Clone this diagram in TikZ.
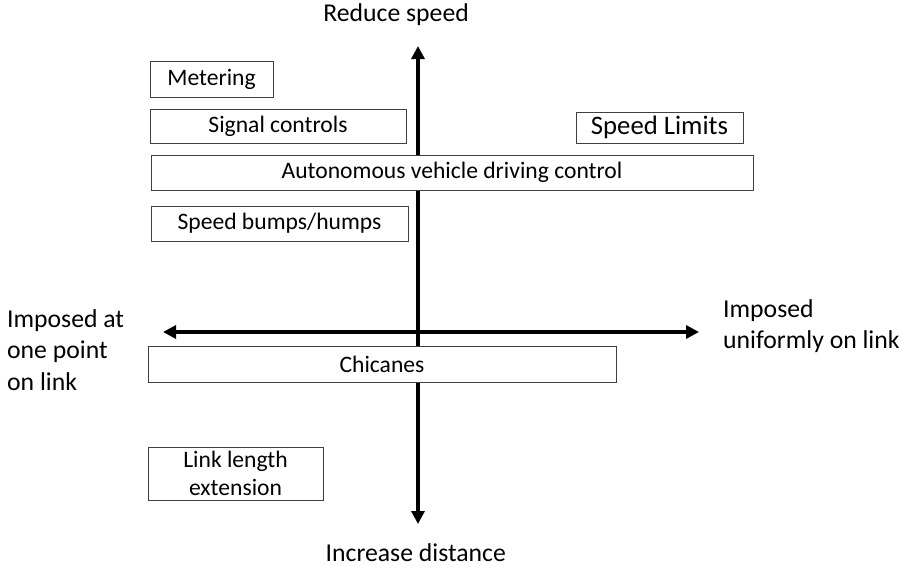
\documentclass[tikz,border=0pt]{standalone}
\usepackage{fontspec}
\setmainfont{Carlito}
\usetikzlibrary{arrows.meta}
\begin{document}
\begin{tikzpicture}[x=1pt,y=-1pt,
  box/.style={draw=black!75,line width=0.9pt,fill=white,inner sep=0pt,font=\fontsize{23.6}{28}\selectfont},
  axis/.style={line width=3.2pt,-{Triangle[length=13pt,width=13pt]}},
  lbl/.style={font=\fontsize{25.7}{31.5}\selectfont,inner sep=0pt}]
\useasboundingbox (0,0) rectangle (913,571);
% axes
\coordinate (c) at (418,332);
\coordinate (top) at (418,46);
\coordinate (bot) at (418,524);
\coordinate (lft) at (163,332);
\coordinate (rgt) at (699,332);
\draw[axis] (c) -- (top);
\draw[axis] (c) -- (bot);
\draw[axis] (c) -- (lft);
\draw[axis] (c) -- (rgt);
% boxes
\node[box,minimum width=123pt,minimum height=36pt] (meter) at (211.5,79) {Metering};
\node[box,minimum width=256pt,minimum height=34pt] (signal) at (278,126) {Signal controls};
\node[box,minimum width=167pt,minimum height=31pt,font=\fontsize{26.7}{32}\selectfont] (limits) at (659.5,127.5) {Speed Limits};
\node[box,minimum width=602pt,minimum height=35pt] (auto) at (452,172.5) {Autonomous vehicle driving control};
\node[box,minimum width=257pt,minimum height=35pt] (bumps) at (279.5,223.5) {Speed bumps/humps};
\node[box,minimum width=468pt,minimum height=36pt] (chic) at (382,364) {Chicanes};
\node[box,minimum width=175pt,minimum height=53pt,align=center] (link) at (235.5,473.5) {Link length\\extension};
% axis labels
\node[lbl,anchor=east] (reduce) at (469,15) {Reduce speed};
\node[lbl,anchor=east] (incr) at (506,553) {Increase distance};
\node[lbl,align=left,anchor=west] (atpt) at (7,350) {Imposed at\\one point\\on link};
\node[lbl,align=left,anchor=west] (unif) at (723,326) {Imposed\\uniformly on link};
\end{tikzpicture}
\end{document}
